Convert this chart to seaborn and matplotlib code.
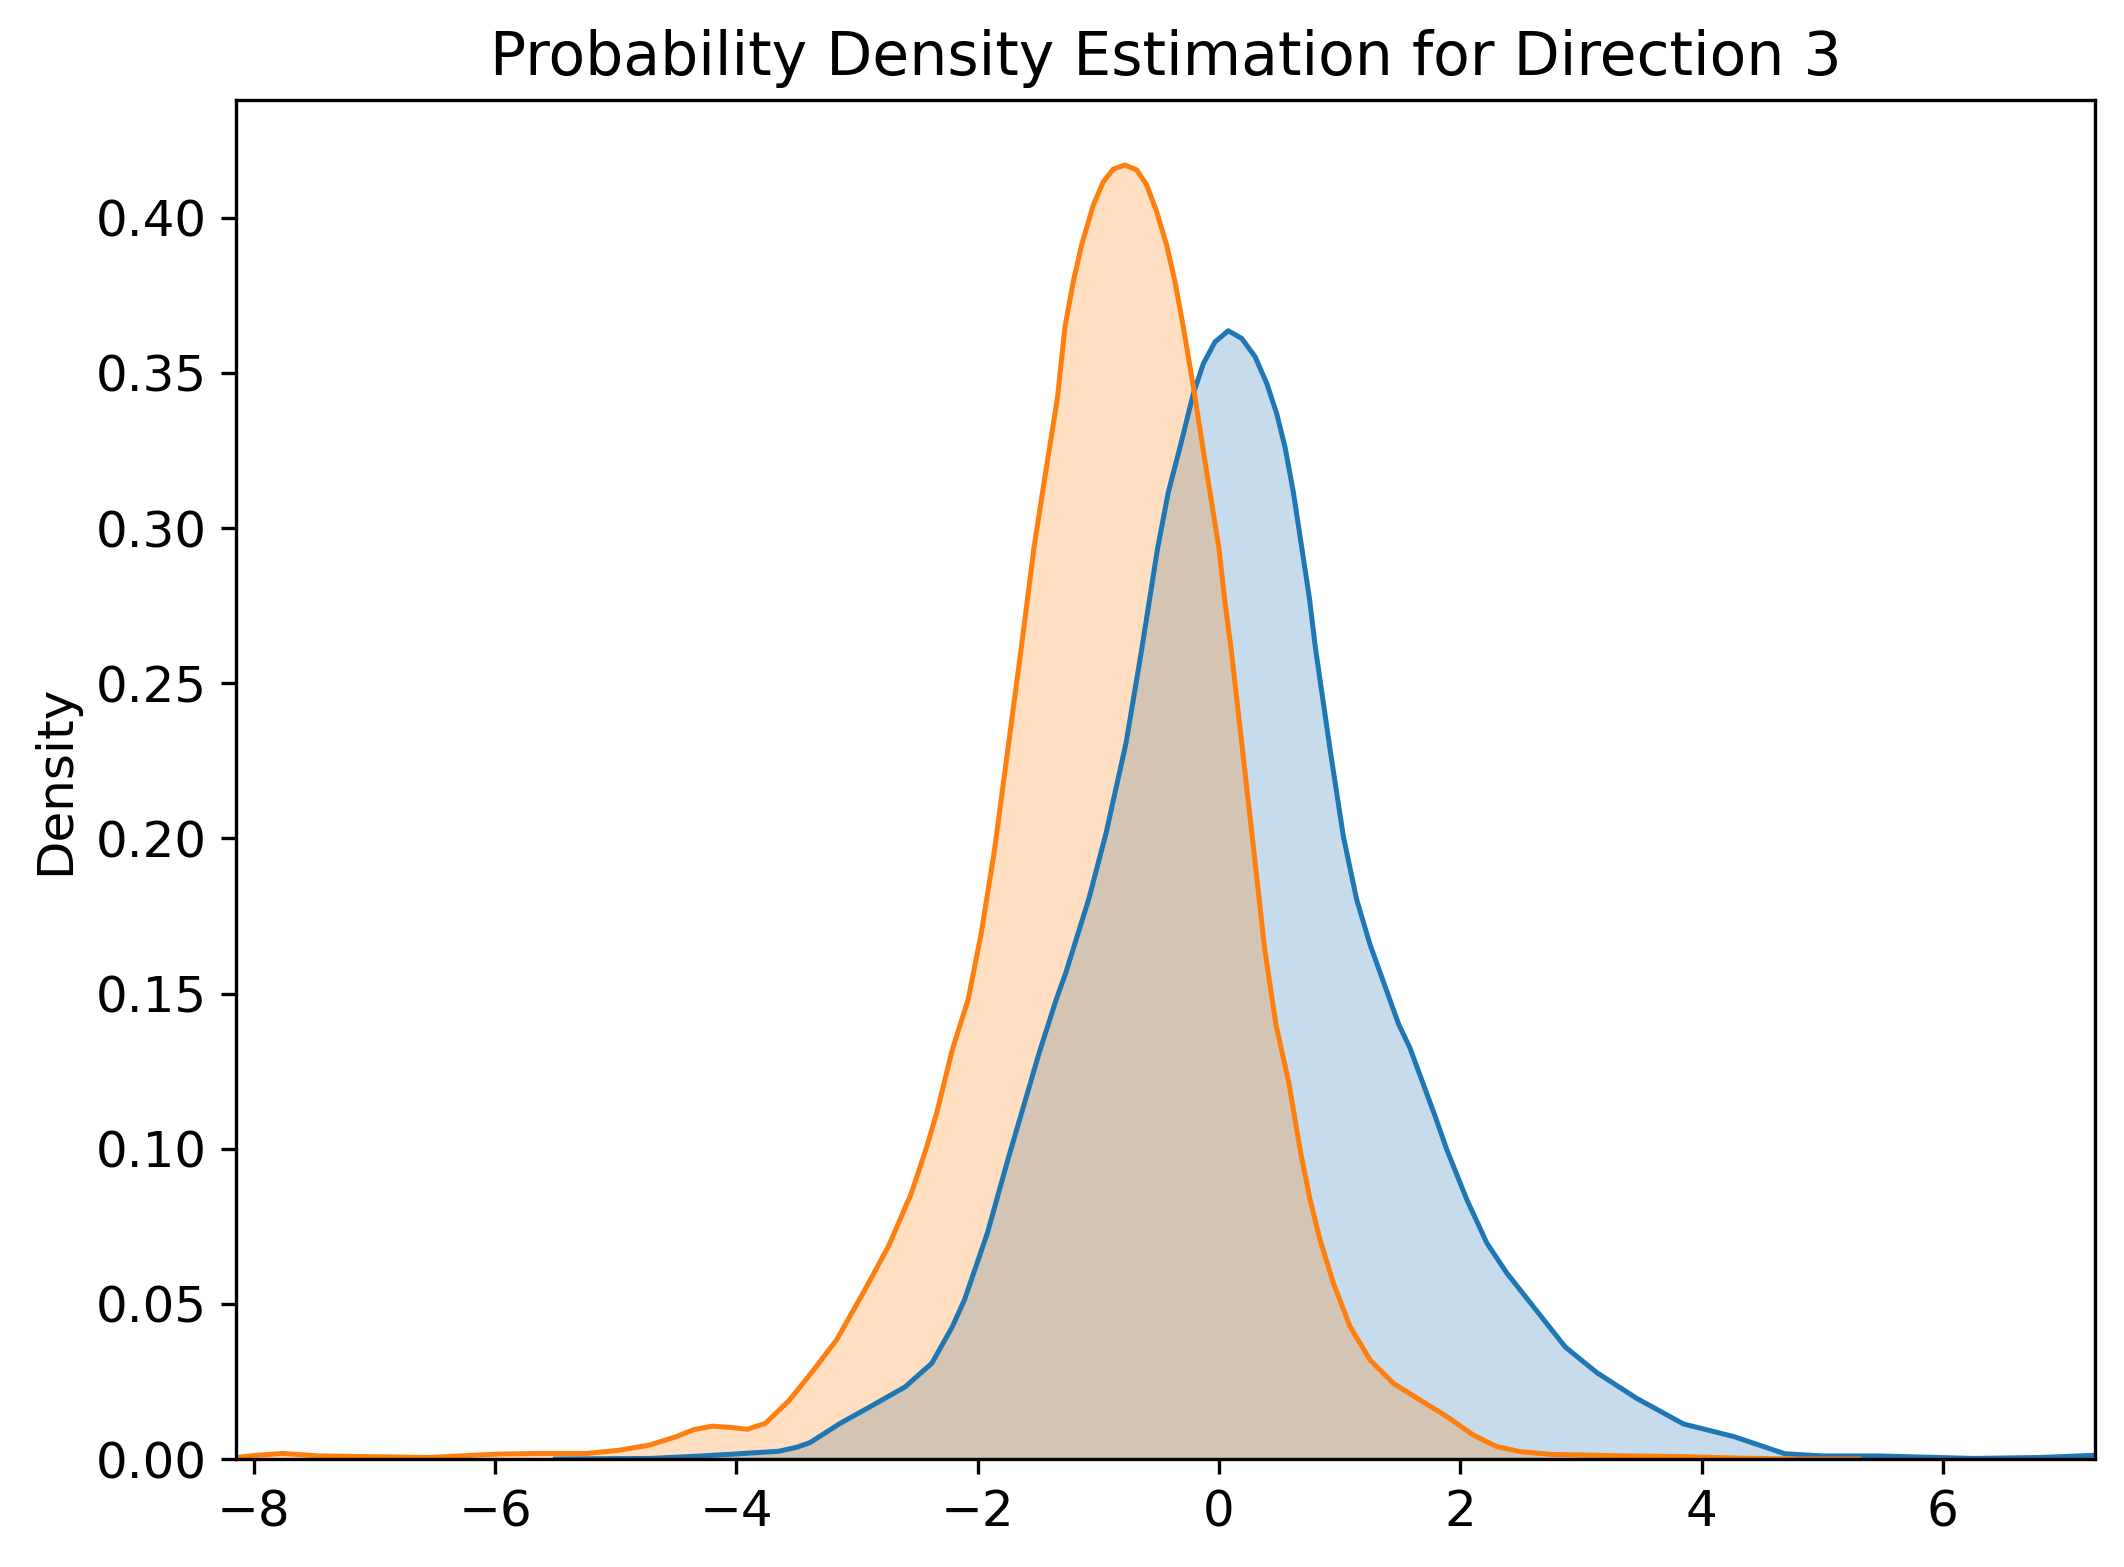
import matplotlib
matplotlib.use("Agg")
import matplotlib.pyplot as plt
import seaborn as sns

# density curves (x, density)
x_blue = [-5.5, -4.71, -4.29, -4.02, -3.86, -3.65, -3.50, -3.39, -3.14, -2.89,
          -2.60, -2.38, -2.21, -2.11, -1.92, -1.75, -1.62, -1.49, -1.35, -1.27,
          -1.08, -0.935, -0.77, -0.64, -0.51, -0.42, -0.323, -0.213, -0.130, -0.033,
          0.077, 0.188, 0.299, 0.396, 0.478, 0.547, 0.616, 0.75, 0.80, 0.92,
          1.03, 1.14, 1.25, 1.37, 1.49, 1.58, 1.79, 1.888, 2.054, 2.22,
          2.386, 2.496, 2.87, 3.13, 3.46, 3.85, 4.27, 4.69, 5.0, 5.47,
          6.25, 6.8, 7.26]
d_blue = [0.0, 0.0002, 0.001, 0.0016, 0.002, 0.0025, 0.0038, 0.0053, 0.0115, 0.0169,
          0.0233, 0.0309, 0.0427, 0.0513, 0.0728, 0.0965, 0.1137, 0.131, 0.148, 0.1567,
          0.1804, 0.2019, 0.2309, 0.2611, 0.2933, 0.3116, 0.3261, 0.3433, 0.353, 0.360,
          0.3636, 0.3611, 0.3552, 0.3466, 0.3369, 0.3261, 0.3116, 0.2772, 0.2611, 0.2288,
          0.2008, 0.1804, 0.166, 0.153, 0.140, 0.1327, 0.1106, 0.0997, 0.0836, 0.0696,
          0.0599, 0.0545, 0.0361, 0.0279, 0.0196, 0.0113, 0.0072, 0.0017, 0.0010, 0.0010,
          0.0002, 0.0005, 0.0012]

x_orange = [-8.15, -7.98, -7.76, -7.46, -7.09, -6.54, -5.98, -5.61, -5.24, -4.98,
            -4.72, -4.50, -4.35, -4.20, -4.05, -3.91, -3.76, -3.56, -3.36, -3.17,
            -2.95, -2.74, -2.55, -2.43, -2.34, -2.21, -2.08, -1.97, -1.86, -1.75,
            -1.64, -1.535, -1.45, -1.34, -1.277, -1.208, -1.139, -1.042, -0.959, -0.876,
            -0.779, -0.682, -0.600, -0.517, -0.434, -0.365, -0.296, -0.21, -0.12, 0.0,
            0.046, 0.10, 0.194, 0.287, 0.379, 0.472, 0.579, 0.672, 0.755, 0.837,
            0.948, 1.086, 1.252, 1.445, 1.667, 1.888, 2.109, 2.303, 2.496, 2.75,
            3.0, 3.4, 3.85, 4.3, 4.8, 5.3]
d_orange = [0.0005, 0.0012, 0.0018, 0.0010, 0.0008, 0.0005, 0.0016, 0.0018, 0.0018, 0.0028,
            0.0045, 0.0072, 0.0095, 0.0106, 0.0102, 0.0096, 0.0115, 0.019, 0.0287, 0.0384,
            0.0535, 0.0685, 0.0857, 0.0997, 0.1115, 0.132, 0.148, 0.1696, 0.1965, 0.2288,
            0.2611, 0.2933, 0.3148, 0.3417, 0.3648, 0.3794, 0.3912, 0.4041, 0.4116, 0.4157,
            0.417, 0.4154, 0.4106, 0.402, 0.3912, 0.3794, 0.3648, 0.345, 0.3225, 0.2933,
            0.2772, 0.2611, 0.2288, 0.1965, 0.1642, 0.1400, 0.1212, 0.0997, 0.0836, 0.0707,
            0.0567, 0.0427, 0.0319, 0.0244, 0.019, 0.0137, 0.0077, 0.004, 0.0024, 0.0015,
            0.0013, 0.0010, 0.0008, 0.0003, 0.0, 0.0]

plt.rcParams["font.size"] = 12

fig, ax = plt.subplots(figsize=(2124 / 300, 1567 / 300), dpi=300)
fig.subplots_adjust(left=0.111, right=0.9863, top=0.936, bottom=0.0689)

pal = sns.color_palette("tab10")
for xs, ds, col in [(x_blue, d_blue, pal[0]), (x_orange, d_orange, pal[1])]:
    ax.fill_between(xs, ds, 0, color=col, alpha=0.25, linewidth=0)
    sns.lineplot(x=xs, y=ds, color=col, linewidth=1.2, ax=ax)

ax.set_xlim(x_orange[0], x_blue[-1])
ax.set_ylim(0, max(d_orange) * 1.05)
ax.set_ylabel("Density")
ax.set_title("Probability Density Estimation for Direction 3")

plt.savefig("out.png", dpi=300)
